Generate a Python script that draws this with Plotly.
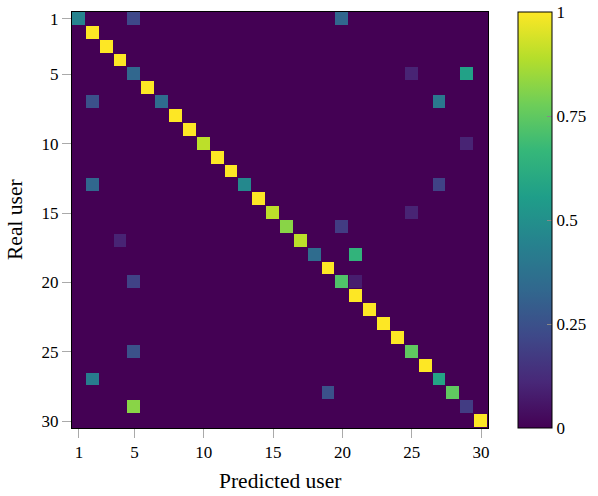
import plotly.graph_objects as go

n_users = 30
users = list(range(1, n_users + 1))

# diagonal (correct prediction rate) per real user
diag_vals = [0.45, 1, 1, 1, 0.33, 1, 0.35, 1, 1, 0.9,
             1, 1, 0.47, 1, 0.9, 0.82, 0.9, 0.35, 1, 0.72,
             1, 1, 1, 1, 0.75, 1, 0.58, 0.75, 0.18, 1]

# off-diagonal confusions
off_rows = [1, 1, 5, 5, 7, 7, 10, 13, 13, 15, 16, 17, 18, 20, 20, 25, 27, 28, 29]
off_cols = [5, 20, 25, 29, 2, 27, 29, 2, 27, 25, 20, 4, 21, 5, 21, 5, 2, 19, 5]
off_vals = [0.22, 0.33, 0.1, 0.57, 0.25, 0.4, 0.1, 0.33, 0.2, 0.1, 0.18, 0.1,
            0.65, 0.2, 0.08, 0.25, 0.42, 0.25, 0.82]

tick_vals = [1, 5, 10, 15, 20, 25, 30]
cbar_ticks = [0, 0.25, 0.5, 0.75, 1]
cbar_labels = ["0", "0.25", "0.5", "0.75", "1"]

z = [[0.0] * n_users for _ in range(n_users)]
for i, v in enumerate(diag_vals):
    z[i][i] = v
for r, c, v in zip(off_rows, off_cols, off_vals):
    z[r - 1][c - 1] = v

font_family = "Liberation Serif, Times New Roman, serif"

fig = go.Figure(go.Heatmap(
    z=z, x=users, y=users,
    colorscale="Viridis", zmin=0, zmax=1,
    xgap=1, ygap=1,
    colorbar=dict(
        x=1.0716, xanchor="left", y=0.5, yanchor="middle", len=1, lenmode="fraction",
        thickness=34, thicknessmode="pixels",
        outlinecolor="black", outlinewidth=1,
        tickmode="array", tickvals=cbar_ticks, ticktext=cbar_labels,
        ticks="inside", ticklen=5, tickcolor="#888888",
        ticklabeloverflow="allow",
        tickfont=dict(family=font_family, size=17, color="black"),
        xpad=0, ypad=0,
    ),
))

fig.update_layout(
    width=598, height=496,
    margin=dict(l=72, r=110, t=12, b=68, autoexpand=False),
    paper_bgcolor="white",
    plot_bgcolor="#440154",
    font=dict(family=font_family, size=17, color="black"),
    annotations=[
        dict(text="Predicted user", xref="paper", yref="paper", x=0.5, y=0,
             xanchor="center", yanchor="middle", yshift=-53, showarrow=False,
             font=dict(size=21.5)),
        dict(text="Real user", xref="paper", yref="paper", x=0, y=0.5,
             xanchor="center", yanchor="middle", xshift=-57, textangle=-90,
             showarrow=False, font=dict(size=21.5)),
    ],
)
fig.update_xaxes(
    range=[0.5, 30.5], tickvals=tick_vals, ticks="outside", ticklen=9,
    tickcolor="#aaaaaa", showgrid=False, zeroline=False, automargin=False,
    showline=True, linecolor="black", linewidth=1, mirror=True,
    tickfont=dict(size=17),
)
fig.update_yaxes(
    range=[30.5, 0.5], tickvals=tick_vals, ticks="outside", ticklen=9,
    tickcolor="#aaaaaa", showgrid=False, zeroline=False, automargin=False,
    showline=True, linecolor="black", linewidth=1, mirror=True,
    tickfont=dict(size=17),
)

fig.write_html(
    "out.html",
    config={"displayModeBar": False},
    post_script="document.body.style.margin='0';document.body.style.overflow='hidden';",
)
